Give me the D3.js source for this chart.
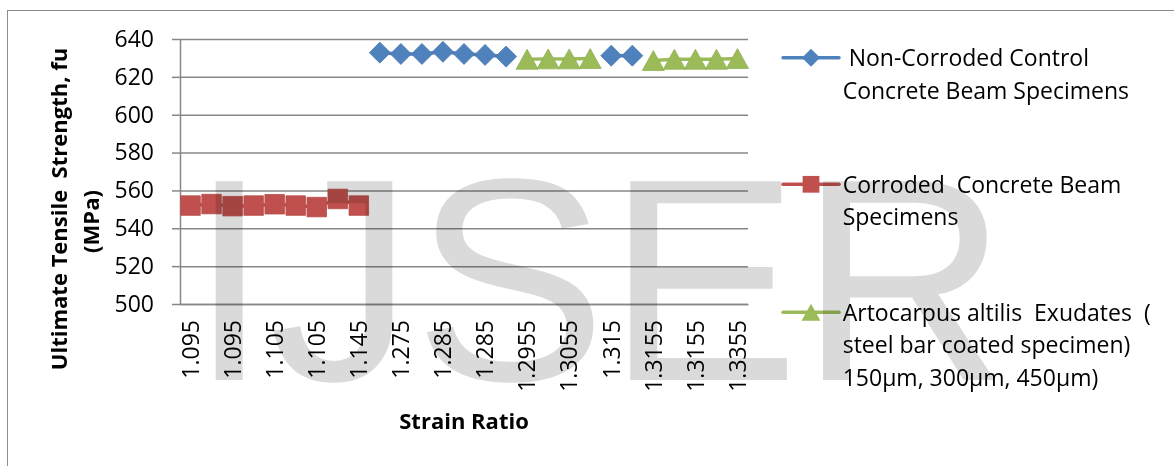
<!DOCTYPE html>
<html>
<head>
<meta charset="utf-8">
<script src="https://cdn.jsdelivr.net/npm/d3@7"></script>
<style>
  body { margin: 0; background: #fff; }
  text { font-family: "Open Sans", sans-serif; }
</style>
</head>
<body>
<div id="chart-area"></div>
<script>
// strain ratio labels (every other category carries a label)
var tickLabels = ["1.095", "1.095", "1.105", "1.105", "1.145", "1.275", "1.285",
    "1.285", "1.2955", "1.3055", "1.315", "1.3155", "1.3155", "1.3355"];
var yTicks = [500, 520, 540, 560, 580, 600, 620, 640];

// ultimate tensile strength (MPa), one slot per category, null = no point
var nonCorroded = [null, null, null, null, null, null, null, null, null,
    632.8, 632.1, 632.1, 633.2, 632.1, 631.6, 630.7,
    null, null, null, null,
    631.2, 631.2,
    null, null, null, null, null];
var corroded = [552, 552.8, 551.7, 552, 552.7, 552, 551.2, 555.5, 552,
    null, null, null, null, null, null, null, null, null,
    null, null, null, null, null, null, null, null, null];
var coated = [null, null, null, null, null, null, null, null, null,
    null, null, null, null, null, null, null,
    629.3, 629.5, 629.5, 629.7,
    null, null,
    628.6, 629.3, 629.3, 629.3, 629.7];

var seriesNames = [
    [" Non-Corroded Control", "Concrete Beam Specimens"],
    ["Corroded  Concrete Beam", "Specimens"],
    ["Artocarpus altilis  Exudates  (", "steel bar coated specimen)", "150\u00b5m, 300\u00b5m, 450\u00b5m)"]
];
var seriesColors = ["#4F81BD", "#C0504D", "#9BBB59"];
var seriesShapes = ["diamond", "square", "triangle"];
var seriesData = [nonCorroded, corroded, coated];

var W = 1174, H = 466;
var plot = { left: 180, right: 748, top: 39, bottom: 304 };

var svg = d3.select("#chart-area")
    .append("svg")
    .attr("width", W)
    .attr("height", H);

// outer chart frame (cropped on the right and bottom)
svg.append("rect")
    .attr("x", 7.5).attr("y", 10.5)
    .attr("width", W * 2).attr("height", H * 2)
    .attr("fill", "none")
    .attr("stroke", "#8c8c8c")
    .attr("stroke-width", 1);

var nCat = corroded.length;
var x = d3.scaleBand()
    .domain(d3.range(nCat))
    .range([plot.left, plot.right]);
var cx = function(i) { return x(i) + x.bandwidth() / 2; };

var y = d3.scaleLinear()
    .domain([500, 640])
    .range([plot.bottom, plot.top]);

// gridlines
var grid = svg.append("g")
    .attr("transform", "translate(" + plot.left + ",0)")
    .call(d3.axisLeft(y).tickValues(yTicks).tickSize(-(plot.right - plot.left)).tickFormat(""));
grid.select(".domain").remove();
grid.selectAll("line").attr("stroke", "#878787").attr("stroke-width", 1.5);

// y axis
var yAxis = svg.append("g")
    .attr("transform", "translate(" + plot.left + ",0)")
    .call(d3.axisLeft(y).tickValues(yTicks).tickSizeInner(8).tickSizeOuter(0).tickPadding(18));
yAxis.select(".domain").attr("stroke", "#878787").attr("stroke-width", 1.5);
yAxis.selectAll("line").attr("stroke", "#878787").attr("stroke-width", 1.5);
yAxis.selectAll("text")
    .attr("fill", "#000")
    .style("font-size", "23px");

// x axis
var xAxis = svg.append("g")
    .attr("transform", "translate(0," + plot.bottom + ")")
    .call(d3.axisBottom(x)
        .tickValues(d3.range(0, nCat, 2))
        .tickSize(0)
        .tickFormat(function(d) { return tickLabels[d / 2]; }));
xAxis.select(".domain").attr("stroke", "#878787").attr("stroke-width", 1.5);
xAxis.selectAll("text")
    .attr("transform", "rotate(-90)")
    .attr("x", -16)
    .attr("y", 0)
    .attr("dy", "0.36em")
    .attr("text-anchor", "end")
    .attr("fill", "#000")
    .style("font-size", "23px");

// axis titles
svg.append("text")
    .attr("x", (plot.left + plot.right) / 2)
    .attr("y", 429)
    .attr("text-anchor", "middle")
    .style("font-size", "22px")
    .style("font-weight", "bold")
    .text("Strain Ratio");

svg.append("text")
    .attr("transform", "translate(66.5,209) rotate(-90)")
    .attr("text-anchor", "middle")
    .style("font-size", "22px")
    .style("font-weight", "bold")
    .style("white-space", "pre")
    .text("Ultimate Tensile  Strength, fu");

svg.append("text")
    .attr("transform", "translate(98.5,221.5) rotate(-90)")
    .attr("text-anchor", "middle")
    .style("font-size", "22px")
    .style("font-weight", "bold")
    .text("(MPa)");

function markerPath(shape, r) {
    if (shape == "diamond")
        return "M0," + (-r) + "L" + r + ",0L0," + r + "L" + (-r) + ",0Z";
    if (shape == "square")
        return "M" + (-r * 0.93) + "," + (-r * 0.93) + "h" + (r * 1.86) + "v" + (r * 1.86) + "h" + (-r * 1.86) + "Z";
    // triangle
    return "M0," + (-r * 0.95) + "L" + (r * 1.05) + "," + (r * 0.95) + "L" + (-r * 1.05) + "," + (r * 0.95) + "Z";
}

var line = d3.line()
    .defined(function(d) { return d != null; })
    .x(function(d, i) { return cx(i); })
    .y(function(d) { return y(d); });

seriesData.forEach(function(data, s) {
    var g = svg.append("g");
    g.append("path")
        .datum(data)
        .attr("d", line)
        .attr("fill", "none")
        .attr("stroke", seriesColors[s])
        .attr("stroke-width", 3.5);

    var pts = data.map(function(d, i) { return { i: i, v: d }; })
        .filter(function(d) { return d.v != null; });

    g.selectAll(".marker")
        .data(pts)
        .enter().append("path")
        .attr("class", "marker")
        .attr("transform", function(d) { return "translate(" + cx(d.i) + "," + y(d.v) + ")"; })
        .attr("d", markerPath(seriesShapes[s], 10.5))
        .attr("fill", seriesColors[s])
        .attr("stroke", d3.color(seriesColors[s]).darker(0.15))
        .attr("stroke-width", 0.8);
});

// legend
var legendLineY = [57.7, 184.3, 312.3];
var legend = svg.append("g");
seriesNames.forEach(function(lines, s) {
    var ly = legendLineY[s];
    legend.append("line")
        .attr("x1", 783).attr("x2", 839)
        .attr("y1", ly).attr("y2", ly)
        .attr("stroke", seriesColors[s])
        .attr("stroke-width", 3.5)
        .attr("stroke-linecap", "round");
    legend.append("path")
        .attr("transform", "translate(811," + ly + ")")
        .attr("d", markerPath(seriesShapes[s], 9))
        .attr("fill", seriesColors[s]);
    var t = legend.append("text")
        .style("font-size", "23px")
        .style("white-space", "pre")
        .attr("fill", "#000");
    lines.forEach(function(str, k) {
        t.append("tspan")
            .attr("x", 842.7)
            .attr("y", ly + 8.3 + k * 32.5)
            .text(str);
    });
});

// watermark
svg.append("text")
    .attr("x", 189)
    .attr("y", 380)
    .style("font-family", "'Liberation Sans', Arial, sans-serif")
    .style("font-size", "289px")
    .style("mix-blend-mode", "multiply")
    .attr("fill", "#dadada")
    .text("IJSER");
</script>
</body>
</html>
